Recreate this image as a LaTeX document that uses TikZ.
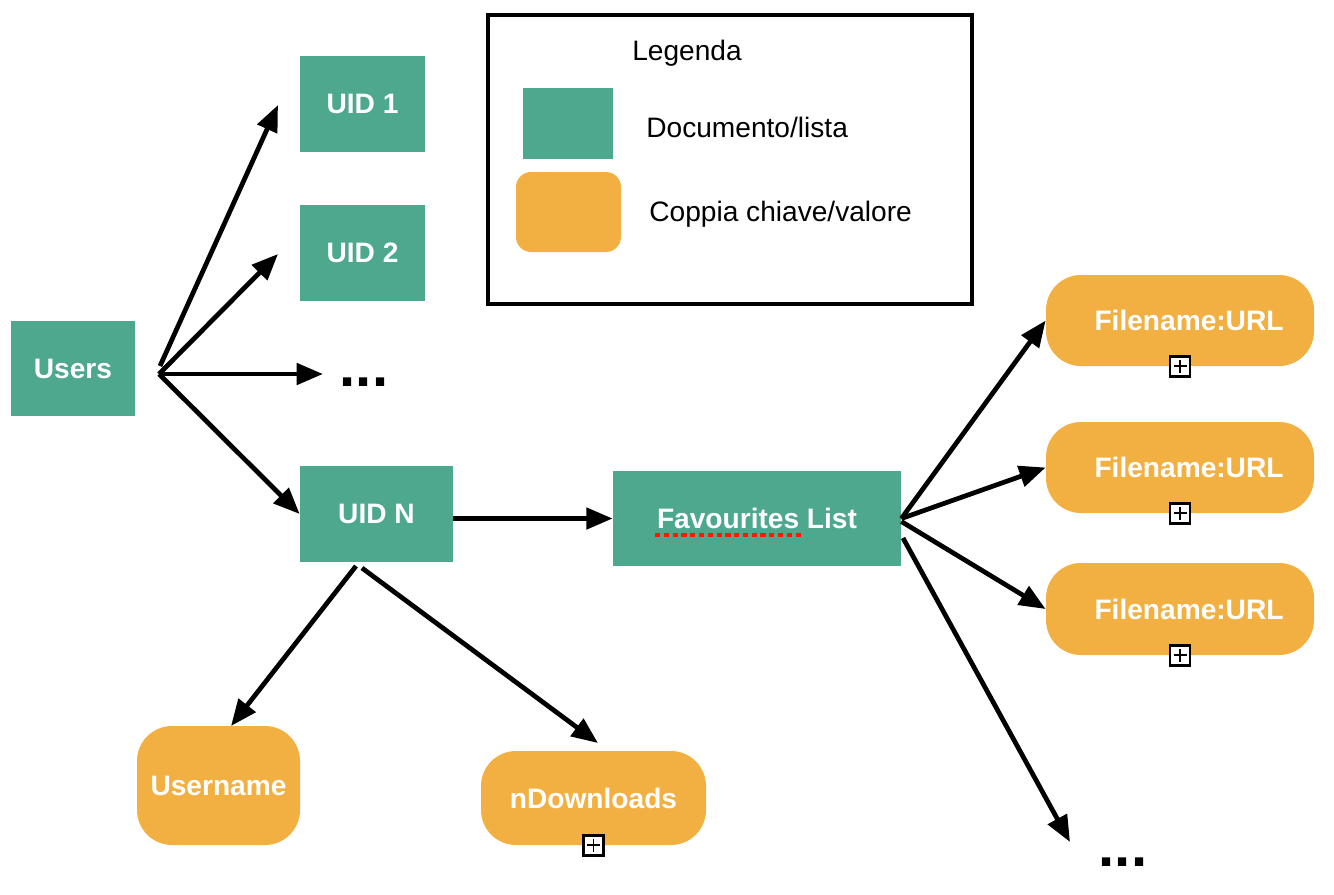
\documentclass[tikz,border=0pt]{standalone}
\usepackage{fontspec}
\setmainfont{Liberation Sans}
\usetikzlibrary{arrows.meta}
\definecolor{docgreen}{HTML}{4DA88E}
\definecolor{kvorange}{HTML}{F3B042}
\tikzset{
  sz/.style 2 args={minimum width=#1*0.02cm, minimum height=#2*0.02cm},
  boxfont/.style={font=\fontsize{16}{19}\selectfont\bfseries},
  doc/.style={fill=docgreen, text=white, boxfont, inner sep=0pt},
  kv/.style={fill=kvorange, text=white, boxfont, inner sep=0pt, rounded corners=0.7cm},
  legtext/.style={font=\fontsize{16}{19}\selectfont, text=black, inner sep=0pt},
  dots/.style={font=\fontsize{33}{40}\selectfont\bfseries, inner sep=0pt},
  arr/.style={line width=2.7pt, -{Triangle[length=15pt,width=12pt]}},
  plusbox/.style={draw, line width=1.3pt, fill=white, minimum size=0.4cm, inner sep=0pt,
    path picture={
      \draw[line width=1.1pt] ([xshift=2pt]path picture bounding box.west) -- ([xshift=-2pt]path picture bounding box.east);
      \draw[line width=1.1pt] ([yshift=-2pt]path picture bounding box.north) -- ([yshift=2pt]path picture bounding box.south);
    }},
}
\begin{document}
\begin{tikzpicture}[x=0.02cm,y=-0.02cm]
\useasboundingbox (0,0) rectangle (1334,894);

% legend
\node[draw, line width=2.4pt, sz={484}{289}, inner sep=0pt] (legend) at (730,159.5) {};
\node[legtext] (legtitle) at (687,53) {Legenda};
\node[fill=docgreen, sz={90}{71}, inner sep=0pt] (legdoc) at (568,123.5) {};
\node[fill=kvorange, sz={105}{80}, inner sep=0pt, rounded corners=0.3cm] (legkv) at (568.5,212) {};
\node[legtext, anchor=west] (legdoctext) at (646,127) {Documento/lista};
\node[legtext, anchor=west] (legkvtext) at (649,214) {Coppia chiave/valore};

% documents
\node[doc, sz={124}{95}] (users) at (73,368.5) {Users};
\node[doc, sz={125}{96}] (uid1) at (362.5,104) {\raisebox{-1.5pt}{UID 1}};
\node[doc, sz={125}{96}] (uid2) at (362.5,253) {\raisebox{-1.5pt}{UID 2}};
\node[doc, sz={153}{96}] (uidn) at (376.5,514) {\raisebox{-1.5pt}{UID N}};
\node[doc, sz={288}{95}] (fav) at (757,518.5) {Favourites List};
\node[dots] (dots1) at (364,382) {...};
\node[dots] (dots2) at (1123,862) {...};

% key/value
\node[kv, sz={268}{91}] (f1) at (1180,320.5) {\hspace*{0.36cm}Filename:URL};
\node[kv, sz={268}{91}] (f2) at (1180,467.5) {\hspace*{0.36cm}Filename:URL};
\node[kv, sz={268}{92}] (f3) at (1180,609) {\hspace*{0.36cm}Filename:URL};
\node[kv, sz={163}{119}] (username) at (218.5,785.5) {Username};
\node[kv, sz={225}{94}] (ndl) at (593.5,798) {nDownloads};

\node[plusbox] (p1) at (f1.south) {};
\node[plusbox] (p2) at (f2.south) {};
\node[plusbox] (p3) at (f3.south) {};
\node[plusbox] (p4) at (ndl.south) {};

% spell-check underline
\draw[red!80!orange, line width=2.2pt, dash pattern=on 3pt off 2pt] (655,535) -- (802,535);

% connector ends
\coordinate (uo1) at (160,366);
\coordinate (uo) at (159,374);
\coordinate (t1) at (278,105);
\coordinate (t2) at (278,254);
\coordinate (t3) at (323,374);
\coordinate (nu) at (356,566);
\coordinate (tu) at (231,726);
\coordinate (nd) at (362,568);
\coordinate (td) at (598,743);
\coordinate (fo) at (903,538);
\coordinate (tdots) at (1070,842);

\draw[arr] (uo1) -- (t1);
\draw[arr] (uo) -- (t2);
\draw[arr] (uo) -- (t3);
\draw[arr] (uo) -- (uidn.west);
\draw[arr] (uidn.east |- fav.west) -- (fav.west);
\draw[arr] (nu) -- (tu);
\draw[arr] (nd) -- (td);
\draw[arr] (fav.east) -- (f1.west);
\draw[arr] (fav.east) -- (f2.west);
\draw[arr] ([yshift=-0.06cm]fav.east) -- (f3.west);
\draw[arr] (fo) -- (tdots);
\end{tikzpicture}
\end{document}
